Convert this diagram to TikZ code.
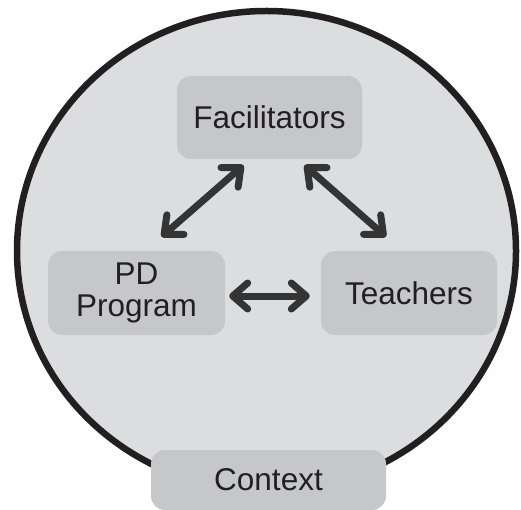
\documentclass[tikz,border=0pt]{standalone}
\usepackage{fontspec}
\setmainfont{Liberation Sans}
\usetikzlibrary{arrows.meta}
\definecolor{ringfill}{RGB}{220,221,223}
\definecolor{boxfill}{RGB}{198,199,201}
\definecolor{ink}{RGB}{35,31,32}
\definecolor{arrowgray}{RGB}{52,52,52}
\tikzset{
  box/.style={fill=boxfill, rounded corners=14pt, minimum height=84pt, inner sep=0pt,
    text=ink, align=center, font=\fontsize{31.5}{32}\selectfont},
  barb/.tip={Straight Barb[length=15pt,width=26pt,line cap=round,line join=round]},
  biarrow/.style={draw=arrowgray, line width=7pt, {barb}-{barb}}
}
\begin{document}
\begin{tikzpicture}[x=1pt,y=-1pt]
\useasboundingbox (0,0) rectangle (521,510);
\draw[ink, line width=6.5pt, fill=ringfill] (266.5,251) ellipse [x radius=249.5, y radius=240];
\node[box, minimum width=185pt, minimum height=83pt] (fac) at (269.5,117.5) {Facilitators};
\node[box, minimum width=177pt] (pd) at (136.5,293) {PD\\Program};
\node[box, minimum width=176pt] (tea) at (409,293) {Teachers};
\node[box, minimum width=235pt, minimum height=60pt] (ctx) at (268.5,480) {Context};
\draw[biarrow] ([xshift=-26pt,yshift=-6pt]fac.south) -- ([xshift=25pt,yshift=14pt]pd.north);
\draw[biarrow] ([xshift=35pt,yshift=-6pt]fac.south) -- ([xshift=-23pt,yshift=14pt]tea.north);
\draw[biarrow] ([xshift=4pt,yshift=-3pt]pd.east) -- ([xshift=-11pt,yshift=-3pt]tea.west);
\end{tikzpicture}
\end{document}
